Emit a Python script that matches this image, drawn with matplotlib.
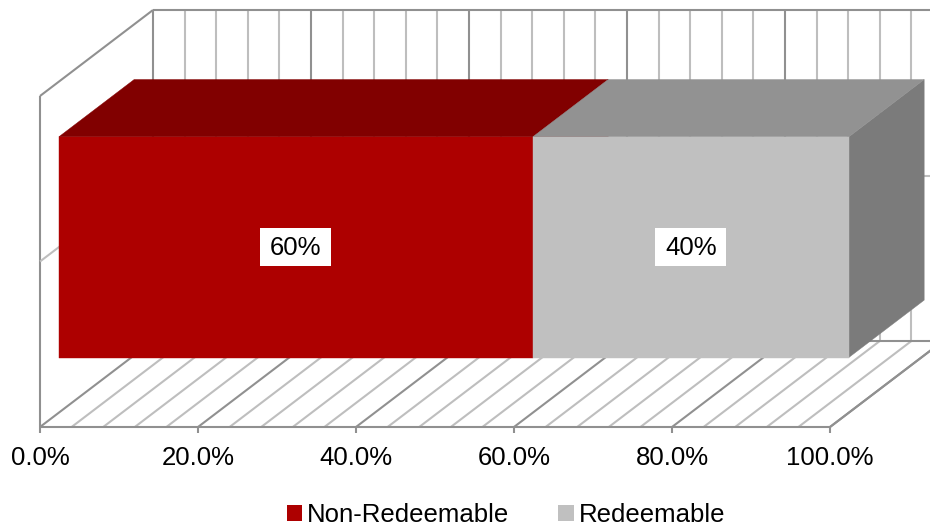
import matplotlib.pyplot as plt
from matplotlib.patches import Polygon, Rectangle, Patch

plt.rcParams["font.family"] = ["Liberation Sans", "DejaVu Sans"]
plt.rcParams["font.size"] = 18.5

series = ["Non-Redeemable", "Redeemable"]
shares = [60, 40]  # %
tick_values = [0, 20, 40, 60, 80, 100]
tick_labels = ["0.0%", "20.0%", "40.0%", "60.0%", "80.0%", "100.0%"]
minor_step = 4

front_colors = ["#ad0000", "#c0c0c0"]
top_colors = ["#810000", "#929292"]
side_colors = ["#7f0000", "#7b7b7b"]

# oblique projection of the box (value %, height 0..1, depth 0..1) to pixels
X0, PX_PCT = 40, 7.9
FLOOR, WALL_H = 427, 331
DX, DY = 113, 86


def proj(v, h=0.0, d=0.0):
    return (X0 + PX_PCT * v + DX * d, FLOOR - WALL_H * h - DY * d)


fig = plt.figure(figsize=(9.3, 5.29), dpi=100)
ax = fig.add_axes([0, 0, 1, 1])
ax.set_xlim(0, 930)
ax.set_ylim(529, 0)
ax.axis("off")

edge = "#909090"
minor = "#bebebe"


def line(p, q, color=edge, lw=1.5, z=1):
    ax.plot([p[0], q[0]], [p[1], q[1]], color=color, lw=lw, zorder=z,
            solid_capstyle="butt")


# floor and back wall grid
v = 0
while v <= 100:
    c = edge if v % 20 == 0 else minor
    line(proj(v, 0, 0), proj(v, 0, 1), c)
    line(proj(v, 0, 1), proj(v, 1, 1), c)
    v += minor_step

# walls and floor outline
line(proj(0, 0, 1), proj(100, 0, 1))
line(proj(0, 1, 1), proj(100, 1, 1))
line(proj(0, 0.5, 1), proj(100, 0.5, 1), minor)
line(proj(0, 0, 0), proj(100, 0, 0))
line(proj(100, 0, 0), proj(100, 0, 1))
line(proj(0, 0, 0), proj(0, 1, 0))
line(proj(0, 1, 0), proj(0, 1, 1))
line(proj(0, 0.5, 0), proj(0, 0.5, 1), minor)

# major ticks and labels
for tv, tl in zip(tick_values, tick_labels):
    x, y = proj(tv)
    line((x, y), (x, y + 6))
    ax.text(x, 458, tl, ha="center", va="center")

# stacked bar
b0, b1 = 1 / 6, 5 / 6
start = 0
for name, val, fc, tc, sc in zip(series, shares, front_colors, top_colors, side_colors):
    end = start + val
    front = [proj(start, b0, b0), proj(end, b0, b0), proj(end, b1, b0), proj(start, b1, b0)]
    top = [proj(start, b1, b0), proj(end, b1, b0), proj(end, b1, b1), proj(start, b1, b1)]
    side = [proj(end, b0, b0), proj(end, b0, b1), proj(end, b1, b1), proj(end, b1, b0)]
    for poly, col in ((side, sc), (top, tc), (front, fc)):
        ax.add_patch(Polygon(poly, closed=True, facecolor=col, edgecolor=col,
                             lw=0.3, zorder=3))
    cx, cy = proj((start + end) / 2, 0.5, b0)
    ax.add_patch(Rectangle((cx - 36, cy - 19), 71, 38, facecolor="white",
                           edgecolor="none", zorder=4))
    ax.text(cx, cy + 1, f"{val}%", ha="center", va="center", zorder=5)
    start = end

handles = [Patch(facecolor=c, edgecolor="none", label=s)
           for s, c in zip(series, front_colors)]
fig.legend(handles=handles, loc="center", bbox_to_anchor=(506 / 930, 1 - 515 / 529),
           ncol=2, frameon=False, handlelength=0.6, handleheight=0.6,
           handletextpad=0.2, columnspacing=1.9, borderpad=0)

plt.savefig("out.png", dpi=100)
